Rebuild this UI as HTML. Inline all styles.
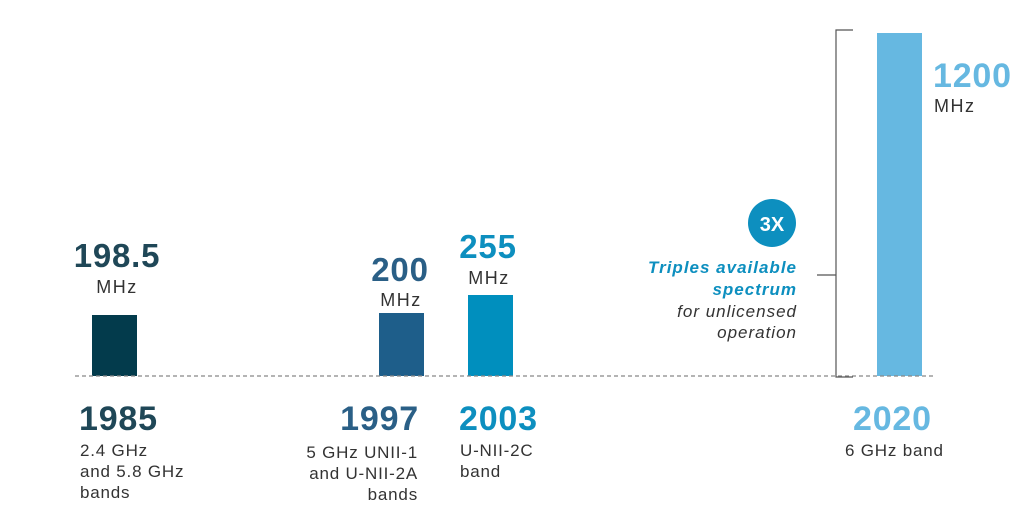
<!DOCTYPE html>
<html><head><meta charset="utf-8"><style>
body{margin:0;background:#fff;}
svg text{font-family:"Liberation Sans",sans-serif;}
.b{font-weight:bold;}
.n{letter-spacing:0.8px;}
.d{letter-spacing:0.8px;}
</style></head><body>
<svg width="1025" height="519" viewBox="0 0 1025 519" xmlns="http://www.w3.org/2000/svg">
<rect x="92" y="315" width="45" height="61" fill="#033b4c"/>
<rect x="379" y="313" width="45" height="63" fill="#1e5e8a"/>
<rect x="468" y="295" width="45" height="81" fill="#008fbe"/>
<rect x="877" y="33" width="45" height="343" fill="#66b8e1"/>
<line x1="75" y1="376" x2="933" y2="376" stroke="#888" stroke-width="1.3" stroke-dasharray="4,3"/>
<path d="M853 30 H836 V377 H853 M817 275 H836" fill="none" stroke="#555" stroke-width="1.2"/>
<g class="n">
<text x="117" y="267" text-anchor="middle" class="b" font-size="33" fill="#1f4757">198.5</text>
<text x="400" y="281" text-anchor="middle" class="b" font-size="33" fill="#2a5f86">200</text>
<text x="488" y="258" text-anchor="middle" class="b" font-size="33" fill="#0d8fbf">255</text>
<text x="933" y="87" class="b" font-size="34" fill="#66b8e1">1200</text>
<text x="79" y="430" class="b" font-size="34" fill="#1f4757">1985</text>
<text x="419" y="430" text-anchor="end" class="b" font-size="34" fill="#2a5f86">1997</text>
<text x="459" y="430" class="b" font-size="34" fill="#0d8fbf">2003</text>
<text x="853" y="430" class="b" font-size="34" fill="#66b8e1">2020</text>
</g>
<g font-size="18" fill="#333" letter-spacing="1.5">
<text x="117" y="293" text-anchor="middle">MHz</text>
<text x="401" y="306" text-anchor="middle">MHz</text>
<text x="489" y="284" text-anchor="middle">MHz</text>
<text x="934" y="112">MHz</text>
</g>
<circle cx="772" cy="223" r="24" fill="#0d8fbf"/>
<text x="772" y="231" text-anchor="middle" class="b" font-size="20" fill="#fff">3X</text>
<g font-size="17" text-anchor="end" font-style="italic" letter-spacing="1">
<text x="797" y="273" class="b" fill="#0d8fbf">Triples available</text>
<text x="797" y="295" class="b" fill="#0d8fbf">spectrum</text>
<text x="797" y="317" fill="#333">for unlicensed</text>
<text x="797" y="338" fill="#333">operation</text>
</g>
<g font-size="17" fill="#333" class="d">
<text x="80" y="456">2.4 GHz</text>
<text x="80" y="477">and 5.8 GHz</text>
<text x="80" y="498">bands</text>
<text x="460" y="456">U-NII-2C</text>
<text x="460" y="477">band</text>
<text x="845" y="456">6 GHz band</text>
</g>
<g font-size="17" fill="#333" text-anchor="end" class="d">
<text x="418" y="458">5 GHz UNII-1</text>
<text x="418" y="479">and U-NII-2A</text>
<text x="418" y="500">bands</text>
</g>
</svg>
</body></html>
